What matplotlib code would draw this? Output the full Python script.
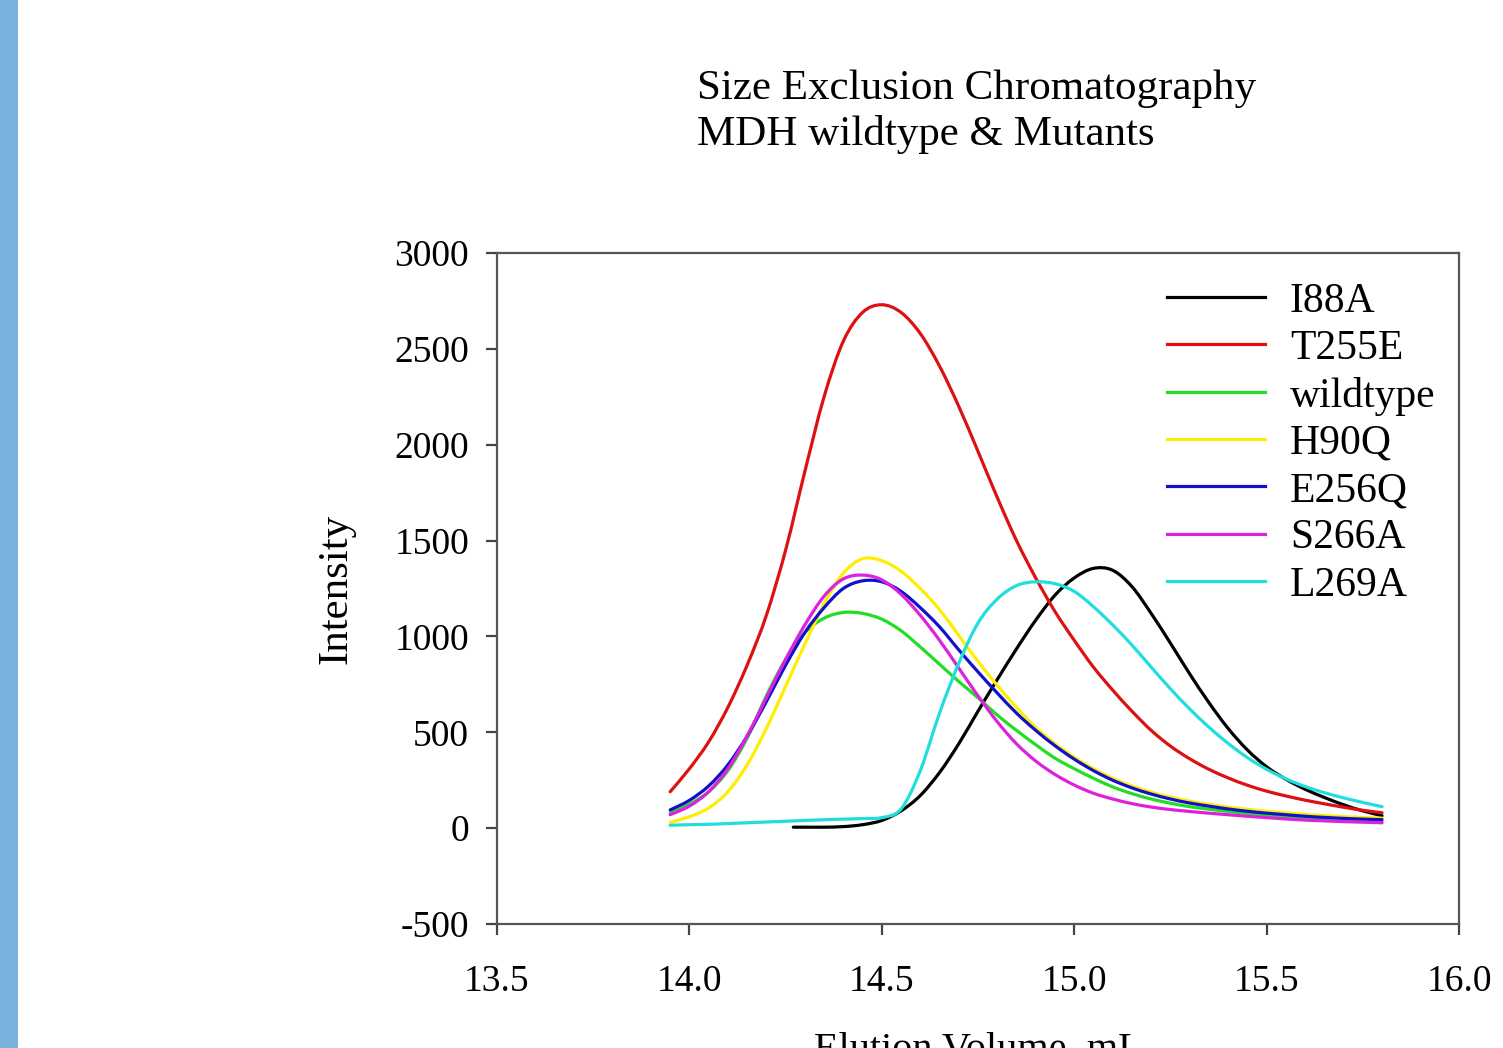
import matplotlib
matplotlib.use("Agg")
import matplotlib.pyplot as plt
from matplotlib.patches import Rectangle, PathPatch
from matplotlib.path import Path
from matplotlib.lines import Line2D

# ---------------- data ----------------
x_common = [13.95, 14.00, 14.05, 14.10, 14.15, 14.20, 14.25, 14.30, 14.35, 14.40,
            14.45, 14.50, 14.55, 14.60, 14.65, 14.70, 14.75, 14.80, 14.85, 14.90,
            14.95, 15.00, 15.05, 15.10, 15.15, 15.20, 15.25, 15.30, 15.35, 15.40,
            15.45, 15.50, 15.55, 15.60, 15.65, 15.70, 15.75, 15.80]

t255e = [190, 310, 450, 630, 850, 1110, 1450, 1860, 2250, 2540,
         2690, 2730, 2690, 2580, 2410, 2200, 1965, 1725, 1500, 1305,
         1130, 980, 840, 720, 610, 510, 428, 362, 307, 262,
         224, 193, 168, 146, 127, 109, 93, 80]

wildtype = [80, 125, 190, 300, 470, 690, 880, 1020, 1095, 1125,
            1120, 1090, 1030, 945, 855, 765, 680, 590, 510, 435,
            365, 310, 260, 215, 180, 152, 130, 112, 99, 87,
            77, 68, 60, 52, 46, 41, 37, 34]

h90q = [30, 60, 105, 190, 330, 520, 740, 960, 1170, 1330,
        1405, 1395, 1340, 1250, 1140, 1005, 870, 745, 630, 525,
        440, 370, 310, 260, 220, 188, 162, 141, 124, 110,
        98, 88, 80, 72, 66, 60, 56, 52]

e256q = [95, 145, 220, 330, 480, 660, 850, 1020, 1150, 1250,
         1290, 1285, 1235, 1150, 1050, 930, 815, 705, 600, 510,
         430, 360, 300, 250, 210, 178, 152, 131, 115, 100,
         88, 78, 70, 62, 56, 51, 47, 44]

s266a = [70, 115, 190, 310, 480, 680, 880, 1060, 1210, 1300,
         1320, 1295, 1220, 1110, 980, 835, 690, 555, 440, 350,
         280, 225, 182, 152, 128, 110, 97, 87, 78, 70,
         62, 55, 48, 42, 38, 34, 31, 28]

l269a = [15, 18, 20, 24, 28, 32, 36, 40, 44, 47,
         50, 55, 100, 300, 600, 860, 1070, 1195, 1265, 1285,
         1275, 1235, 1155, 1060, 955, 840, 727, 622, 527, 442,
         368, 307, 257, 217, 185, 158, 134, 112]

x_i88a = [14.27, 14.30, 14.35, 14.40, 14.45, 14.50, 14.55, 14.60, 14.65, 14.70,
          14.75, 14.80, 14.85, 14.90, 14.95, 15.00, 15.05, 15.10, 15.15, 15.20,
          15.25, 15.30, 15.35, 15.40, 15.45, 15.50, 15.55, 15.60, 15.65, 15.70,
          15.75, 15.80]
i88a = [5, 5, 5, 8, 18, 40, 90, 170, 290, 440,
        610, 775, 935, 1085, 1215, 1305, 1355, 1345, 1260, 1120,
        965, 805, 655, 520, 408, 320, 255, 203, 160, 122,
        90, 65]

labels = ["I88A", "T255E", "wildtype", "H90Q", "E256Q", "S266A", "L269A"]
colors = ["#000000", "#dd1111", "#22dd22", "#ffee00", "#1111cc", "#dd22dd", "#22dddd"]

x_ticks = [13.5, 14.0, 14.5, 15.0, 15.5, 16.0]
y_ticks = [-500, 0, 500, 1000, 1500, 2000, 2500, 3000]


def smooth_path(xs, ys):
    """Catmull-Rom curve through the data points, as cubic Bezier segments."""
    pts = list(zip(xs, ys))
    n = len(pts)
    verts = [pts[0]]
    codes = [Path.MOVETO]
    for i in range(n - 1):
        p0 = pts[i - 1] if i > 0 else pts[i]
        p1 = pts[i]
        p2 = pts[i + 1]
        p3 = pts[i + 2] if i + 2 < n else pts[i + 1]
        c1 = (p1[0] + (p2[0] - p0[0]) / 6, p1[1] + (p2[1] - p0[1]) / 6)
        c2 = (p2[0] - (p3[0] - p1[0]) / 6, p2[1] - (p3[1] - p1[1]) / 6)
        verts += [c1, c2, p2]
        codes += [Path.CURVE4] * 3
    return Path(verts, codes)


# ---------------- figure ----------------
SERIF = ["Liberation Serif", "DejaVu Serif"]
plt.rcParams["font.family"] = SERIF

fig = plt.figure(figsize=(15.03, 10.48), dpi=100)
fig.patch.set_facecolor("white")
fig.patches.append(Rectangle((0, 0), 18 / 1503, 1, transform=fig.transFigure,
                             facecolor="#79b1df", edgecolor="none", zorder=0))

ax = fig.add_axes([497 / 1503, 1 - 924 / 1048, (1459 - 497) / 1503, (924 - 253) / 1048])

LW = 2.3
series = [(x_i88a, i88a), (x_common, t255e), (x_common, wildtype), (x_common, h90q),
          (x_common, e256q), (x_common, s266a), (x_common, l269a)]
handles = []
for (xs, ys), lab, col in zip(series, labels, colors):
    patch = PathPatch(smooth_path(xs, ys), fill=False, edgecolor=col, lw=LW,
                      capstyle="round", joinstyle="round", transform=ax.transData)
    ax.add_patch(patch)
    handles.append(Line2D([], [], color=col, lw=LW, label=lab))

ax.set_xlim(13.5, 16.0)
ax.set_ylim(-500, 3000)
ax.set_xticks(x_ticks)
ax.set_xticklabels([f"{v:.1f}" for v in x_ticks])
ax.set_yticks(y_ticks)
ax.set_yticklabels([str(v) for v in y_ticks])
ax.tick_params(axis="both", direction="out", length=8, width=1.6, color="#444444",
               top=False, right=False)
ax.tick_params(axis="x", labelsize=27, pad=21)
ax.tick_params(axis="y", labelsize=27, pad=12)
for sp in ax.spines.values():
    sp.set_color("#555555")
    sp.set_linewidth(1.6)

ax.set_ylabel("Intensity", fontsize=31, labelpad=28)
ax.set_xlabel("Elution Volume, mL", fontsize=29, labelpad=24)

fig.text(697 / 1503, 1 - 89 / 1048, "Size Exclusion Chromatography",
         ha="left", va="center", fontsize=31)
fig.text(697 / 1503, 1 - 135 / 1048, "MDH wildtype & Mutants",
         ha="left", va="center", fontsize=31)

leg = ax.legend(handles=handles, loc="upper left", bbox_to_anchor=(1167 / 1503, 1 - 282 / 1048),
                bbox_transform=fig.transFigure, frameon=False, fontsize=30,
                handlelength=2.35, handletextpad=0.6, labelspacing=0.21,
                borderpad=0, borderaxespad=0)

fig.savefig("out.png", dpi=100, facecolor="white")
